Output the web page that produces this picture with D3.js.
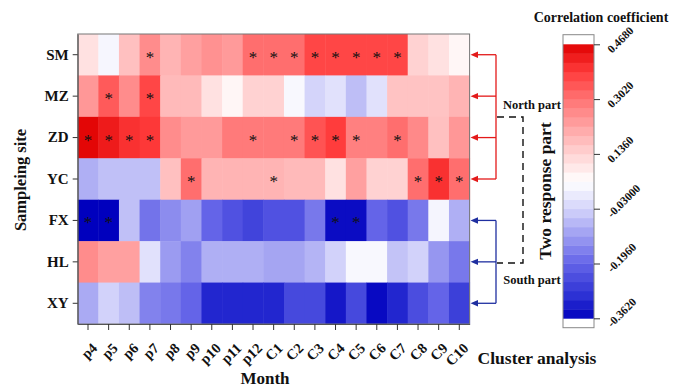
<!DOCTYPE html>
<html><head><meta charset="utf-8">
<script src="https://cdn.jsdelivr.net/npm/d3@7"></script>
<style>
body{margin:0;background:#fff;}
text{font-family:"Liberation Serif","Times New Roman",serif;font-weight:bold;fill:#111;}
</style></head>
<body><svg id="c" width="673" height="389"></svg>
<script>
const months = ["p4","p5","p6","p7","p8","p9","p10","p11","p12","C1","C2","C3","C4","C5","C6","C7","C8","C9","C10"];
const sites = ["SM","MZ","ZD","YC","FX","HL","XY"];
const SM = [0.11,0.035,0.17,0.26,0.19,0.225,0.25,0.235,0.31,0.31,0.31,0.37,0.37,0.37,0.37,0.37,0.14,0.11,0.07];
const MZ = [0.24,0.34,0.26,0.37,0.18,0.18,0.11,0.07,0.14,0.14,0.04,-0.03,-0.005,-0.063,-0.005,0.165,0.165,0.165,0.19];
const ZD = [0.46,0.43,0.40,0.39,0.26,0.235,0.235,0.29,0.29,0.29,0.29,0.35,0.385,0.28,0.28,0.31,0.265,0.17,0.24];
const YC = [-0.085,-0.06,-0.06,-0.06,0.17,0.31,0.19,0.19,0.19,0.19,0.18,0.18,0.11,0.225,0.14,0.14,0.31,0.40,0.31];
const FX = [-0.362,-0.362,-0.06,-0.174,-0.137,-0.107,-0.196,-0.231,-0.257,-0.231,-0.231,-0.166,-0.345,-0.345,-0.196,-0.231,-0.166,0.034,-0.085];
const HL = [0.26,0.225,0.225,-0.005,-0.115,-0.152,-0.085,-0.085,-0.085,-0.10,-0.10,-0.077,-0.033,0.04,0.04,-0.055,-0.033,-0.122,-0.166];
const XY = [-0.092,-0.033,-0.063,-0.152,-0.166,-0.196,-0.31,-0.31,-0.31,-0.31,-0.248,-0.248,-0.33,-0.248,-0.35,-0.31,-0.239,-0.196,-0.265];
// significance markers (months per site)
const sigSM = ["p7","p12","C1","C2","C3","C4","C5","C6","C7"];
const sigMZ = ["p5","p7"];
const sigZD = ["p4","p5","p6","p7","p12","C2","C3","C4","C5","C7"];
const sigYC = ["p9","C1","C8","C9","C10"];
const sigFX = ["p4","p5","C4","C5"];
const sigHL = [];
const sigXY = [];
const cbTicks = [0.468,0.302,0.136,-0.03,-0.196,-0.362];
const cbLabels = ["0.4680","0.3020","0.1360","-0.03000","-0.1960","-0.3620"];
const vmin = -0.362, vmax = 0.468;

const rows = [SM,MZ,ZD,YC,FX,HL,XY];
const sigs = [sigSM,sigMZ,sigZD,sigYC,sigFX,sigHL,sigXY];

const svg = d3.select("#c");
const L = 77.7, R = 469.6, T = 34, B = 324;
const x = d3.scaleBand().domain(months).range([L,R]);
const y = d3.scaleBand().domain(sites).range([T,B]);

const color = d3.scaleLinear()
  .domain([-0.362,-0.30,-0.196,-0.03,0.053,0.136,0.302,0.385,0.468])
  .range(["rgb(0,0,190)","rgb(40,45,210)","rgb(100,100,232)","rgb(212,212,250)","rgb(255,255,255)","rgb(255,212,212)","rgb(255,115,115)","rgb(255,60,60)","rgb(224,0,0)"])
  .clamp(true);

const cells = [];
sites.forEach((s,i)=>months.forEach((m,j)=>cells.push({s,m,v:rows[i][j],sig:sigs[i].includes(m)})));

svg.append("g").selectAll("rect").data(cells).join("rect")
  .attr("x",d=>x(d.m)).attr("y",d=>y(d.s))
  .attr("width",x.bandwidth()+0.5).attr("height",y.bandwidth()+0.5)
  .attr("fill",d=>color(d.v));

svg.append("g").selectAll("text").data(cells.filter(d=>d.sig)).join("text")
  .attr("x",d=>x(d.m)+x.bandwidth()/2).attr("y",d=>y(d.s)+y.bandwidth()/2+8)
  .attr("text-anchor","middle").style("font-size","17px").style("font-weight","normal")
  .text("*");

svg.append("rect").attr("x",L).attr("y",T).attr("width",R-L).attr("height",B-T)
  .attr("fill","none").attr("stroke","#777").attr("stroke-width",1);

// axes
const yAxis = svg.append("g").attr("transform",`translate(${L},0)`)
  .call(d3.axisLeft(y).tickSize(5).tickSizeOuter(0));
yAxis.select(".domain").attr("stroke","#555");
yAxis.selectAll(".tick line").attr("stroke","#333");
yAxis.selectAll("text").style("font-size","15px").style("font-family","Liberation Serif").style("font-weight","bold").attr("dx","-1");

const xAxis = svg.append("g").attr("transform",`translate(0,${B})`)
  .call(d3.axisBottom(x).tickSize(6).tickSizeOuter(0));
xAxis.select(".domain").attr("stroke","#555");
xAxis.selectAll(".tick line").attr("stroke","#333");
xAxis.selectAll("text").style("font-size","14.5px").style("font-family","Liberation Serif").style("font-weight","bold")
  .attr("text-anchor","end").attr("dy","0").attr("y",0)
  .attr("transform","translate(10,25) rotate(-45)");

svg.append("text").attr("transform","translate(26,180) rotate(-90)").attr("text-anchor","middle")
  .style("font-size","16.5px").text("Sampleing site");
svg.append("text").attr("x",265).attr("y",384).attr("text-anchor","middle").style("font-size","17px").text("Month");
svg.append("text").attr("x",537).attr("y",364).attr("text-anchor","middle").style("font-size","17.5px").text("Cluster analysis");
svg.append("text").attr("x",601).attr("y",22).attr("text-anchor","middle").style("font-size","14px").text("Correlation coefficient");

// colorbar
const cbX = 563, cbW = 31, cbT = 44.3, cbB = 318.3;
const cy = d3.scaleLinear().domain([vmin,vmax]).range([cbB,cbT]);
const nb = 30;
const bands = d3.range(nb).map(i=>({a:vmin+(vmax-vmin)*i/nb,b:vmin+(vmax-vmin)*(i+1)/nb}));
svg.append("rect").attr("x",cbX).attr("y",34.7).attr("width",cbW).attr("height",327.7-34.7).attr("fill","#fff");
svg.append("g").selectAll("rect").data(bands).join("rect")
  .attr("x",cbX).attr("width",cbW).attr("y",d=>cy(d.b)).attr("height",d=>cy(d.a)-cy(d.b)+0.4)
  .attr("fill",d=>color((d.a+d.b)/2));
svg.append("rect").attr("x",cbX).attr("y",34.7).attr("width",cbW).attr("height",327.7-34.7).attr("fill","none").attr("stroke","#888");
const cbAxis = svg.append("g").attr("transform",`translate(${cbX+cbW},0)`)
  .call(d3.axisRight(cy).tickValues(cbTicks).tickSize(6).tickFormat((d,i)=>cbLabels[i]));
cbAxis.select(".domain").remove();
cbAxis.selectAll(".tick line").attr("stroke","#333");
cbAxis.selectAll("text").style("font-size","11.5px").style("font-family","Liberation Serif").style("font-weight","bold")
  .attr("x",0).attr("dy",0).attr("text-anchor","start").attr("transform","translate(18,9) rotate(-45)");

// cluster brackets
const red = "#e31a1a", blue = "#1f2fa0";
const northSites = ["SM","MZ","ZD","YC"], southSites = ["FX","HL","XY"];
const bx = 496;
function bracket(list,col){
  const ys = list.map(s=>y(s)+y.bandwidth()/2);
  svg.append("line").attr("x1",bx).attr("x2",bx).attr("y1",d3.min(ys)).attr("y2",d3.max(ys)).attr("stroke",col).attr("stroke-width",1.3);
  ys.forEach(yy=>{
    svg.append("line").attr("x1",bx).attr("x2",476).attr("y1",yy).attr("y2",yy).attr("stroke",col).attr("stroke-width",1.3);
    svg.append("path").attr("d",`M470.5,${yy} L478,${yy-3.2} L478,${yy+3.2} Z`).attr("fill",col);
  });
}
bracket(northSites,red);
bracket(southSites,blue);

svg.append("path").attr("d","M497,117 H523 V263 H497").attr("fill","none").attr("stroke","#111")
  .attr("stroke-width",1.4).attr("stroke-dasharray","7,5");
svg.append("text").attr("x",532).attr("y",109).attr("text-anchor","middle").style("font-size","12.5px").text("North part");
svg.append("text").attr("x",532).attr("y",284).attr("text-anchor","middle").style("font-size","12.5px").text("South part");
svg.append("text").attr("transform","translate(551,191) rotate(-90)").attr("text-anchor","middle").style("font-size","17.5px").text("Two response part");
</script></body></html>
